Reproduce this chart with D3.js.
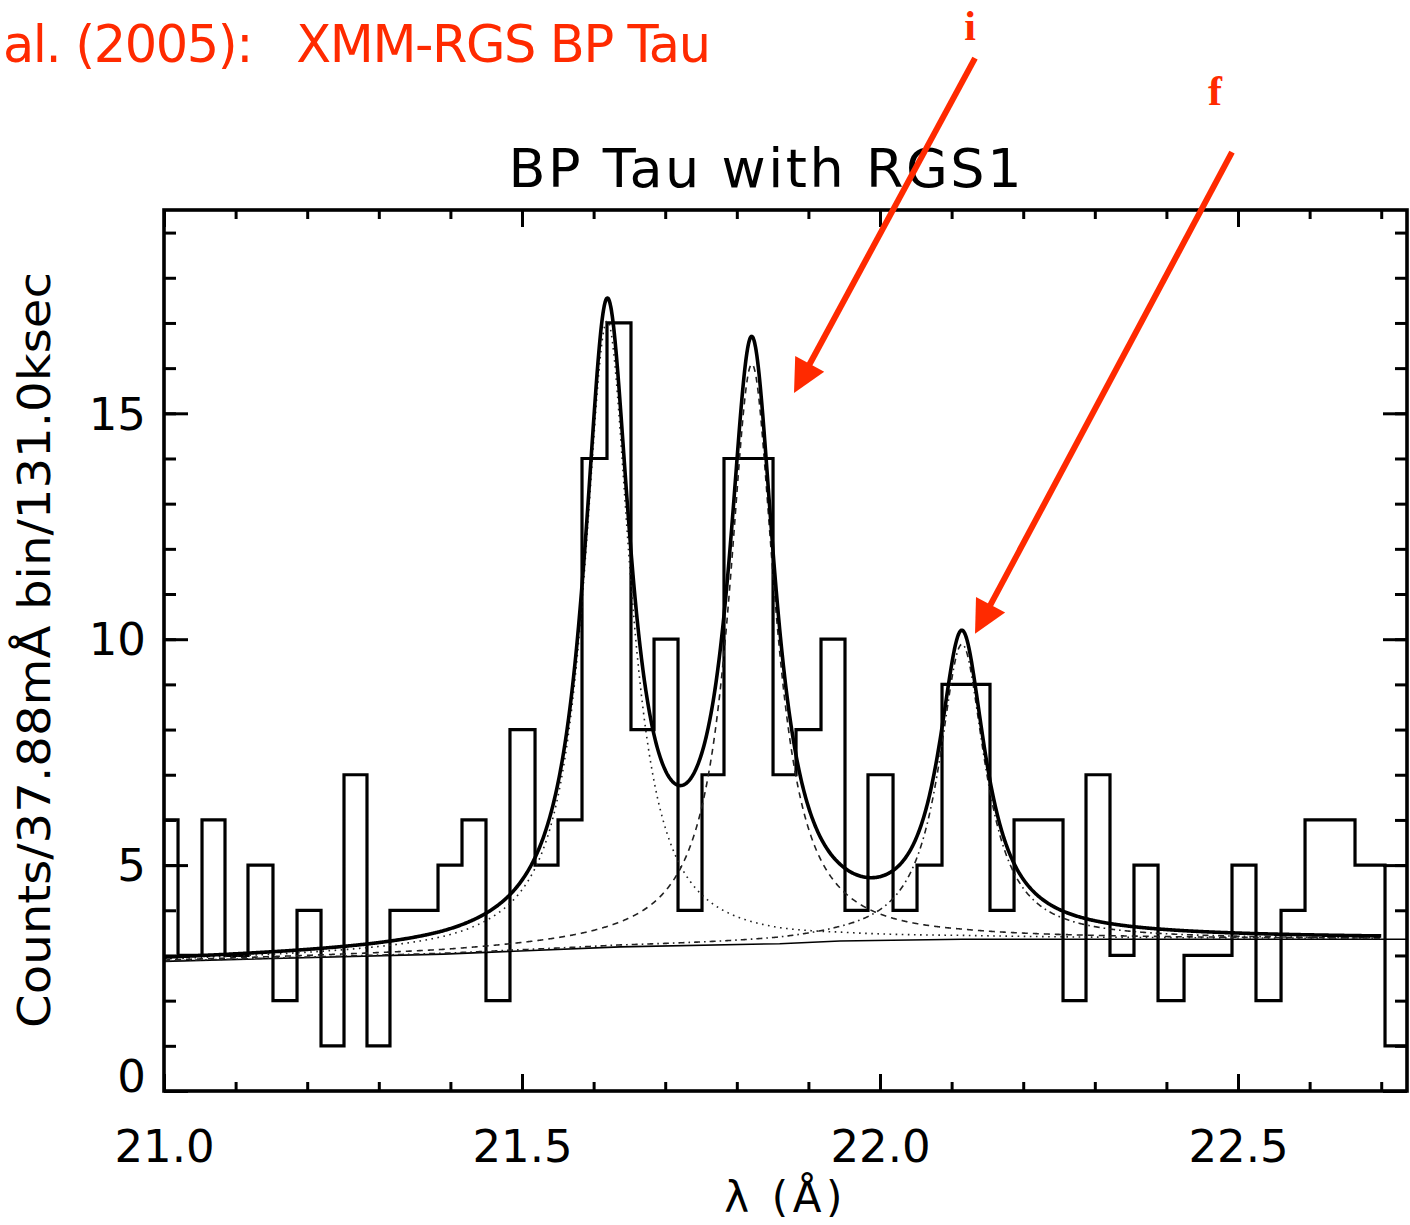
<!DOCTYPE html>
<html>
<head>
<meta charset="utf-8">
<script src="https://cdn.jsdelivr.net/npm/d3@7"></script>
<style>
  html, body { margin: 0; padding: 0; background: #fff; }
  svg { display: block; }
  text { font-family: "DejaVu Sans", Verdana, sans-serif; }
</style>
</head>
<body>
<svg id="chart" width="1410" height="1225"></svg>
<script>
// ---- O VII triplet spectrum of BP Tau (XMM-Newton RGS1) ----

// Wavelength bin edges (Å) of the counts histogram
const binEdges = [
  20.986, 21.0196, 21.0531, 21.0852, 21.1173, 21.1522, 21.1858, 21.2193, 21.2514,
  21.2835, 21.3156, 21.3492, 21.3827, 21.4162, 21.4497, 21.4832, 21.5182, 21.5503,
  21.5838, 21.6187, 21.6522, 21.6844, 21.7179, 21.7514, 21.7821, 21.8170, 21.8506,
  21.8827, 21.9176, 21.9511, 21.9832, 22.0182, 22.0517, 22.0866, 22.1201, 22.1536,
  22.1872, 22.2207, 22.2556, 22.2877, 22.3212, 22.3547, 22.3883, 22.4246, 22.4581,
  22.4916, 22.5251, 22.5601, 22.5936, 22.6285, 22.6634, 22.7053, 22.745
];
// Counts per bin
const counts = [
  6, 3, 6, 3, 5, 2, 4, 1, 7, 1, 4, 4, 5, 6, 2, 8, 5, 6, 14, 17, 8, 10, 4, 7, 14, 14,
  7, 8, 10, 4, 7, 4, 5, 9, 9, 4, 6, 6, 2, 7, 3, 5, 2, 3, 3, 5, 2, 4, 6, 6, 5, 1
];

// Fitted continuum level (wavelength Å, counts)
const continuumLambda = [21.0, 21.39, 21.637, 21.86, 21.944, 22.115, 22.736];
const continuumLevel  = [2.87, 3.03, 3.19, 3.26, 3.32, 3.36, 3.36];

// Fitted emission lines: resonance (r), intercombination (i), forbidden (f)
const lineNames   = ["r", "i", "f"];
const lineCenters = [21.619, 21.821, 22.1145];   // Å
const lineAmps    = [13.87, 12.84, 6.53];        // counts above continuum
const lineWidth   = 0.0391;                      // Lorentzian half width (Å)
const modelRange  = [21.0, 22.70];

// Axis ticks
const xMajorTicks  = [21.0, 21.5, 22.0, 22.5];
const xTickLabels  = ["21.0", "21.5", "22.0", "22.5"];
const xMinorTicks  = d3.range(21.0, 22.75, 0.1).map(v => +v.toFixed(1));
const yMajorTicks  = [0, 5, 10, 15];
const yTickLabels  = ["0", "5", "10", "15"];
const yMinorTicks  = d3.range(0, 20, 1);

// Annotation arrows, in data coordinates: [start, tip]
const arrowLabels = ["i", "f"];
const arrowStarts = [[22.1327, 22.86], [22.4916, 20.78]];
const arrowTips   = [[21.8799, 15.45], [22.1327, 10.12]];
const labelPos    = [[22.1257, 23.27], [22.4679, 21.82]];

// ---- layout ----
const svg = d3.select("#chart");
const W = 1410, H = 1225;
const plot = { left: 164, right: 1407, top: 210, bottom: 1091 };
const red = "#ff2a00";

const x = d3.scaleLinear().domain([21.0, 22.736]).range([plot.left, plot.right]);
const y = d3.scaleLinear().domain([0, 19.5]).range([plot.bottom, plot.top]);

svg.append("rect").attr("width", W).attr("height", H).attr("fill", "#fff");

svg.append("defs").append("clipPath").attr("id", "plotClip")
  .append("rect")
  .attr("x", plot.left).attr("y", plot.top)
  .attr("width", plot.right - plot.left).attr("height", plot.bottom - plot.top);

const g = svg.append("g").attr("clip-path", "url(#plotClip)");

// Histogram as a step outline
const steps = [];
counts.forEach((c, i) => {
  steps.push([binEdges[i], c]);
  steps.push([binEdges[i + 1], c]);
});
g.append("path")
  .datum(steps)
  .attr("fill", "none")
  .attr("stroke", "#000")
  .attr("stroke-width", 3.2)
  .attr("stroke-linejoin", "miter")
  .attr("d", d3.line().x(d => x(d[0])).y(d => y(d[1])));

// Model
const contAt = d3.scaleLinear().domain(continuumLambda).range(continuumLevel).clamp(true);
const lorentz = (k, lam) => lineAmps[k] / (1 + Math.pow((lam - lineCenters[k]) / lineWidth, 2));
const grid = d3.range(modelRange[0], modelRange[1] + 1e-9, 0.001);

// Continuum (thin solid)
g.append("path")
  .datum(continuumLambda.map((l, i) => [l, continuumLevel[i]]))
  .attr("fill", "none")
  .attr("stroke", "#000")
  .attr("stroke-width", 1.6)
  .attr("d", d3.line().x(d => x(d[0])).y(d => y(d[1])));

// Individual line components on top of the continuum
lineNames.forEach((name, k) => {
  g.append("path")
    .datum(grid.map(l => [l, contAt(l) + lorentz(k, l)]))
    .attr("class", "component-" + name)
    .attr("fill", "none")
    .attr("stroke", "#222")
    .attr("stroke-width", 1.6)
    .attr("stroke-dasharray", k === 1 ? "6,5" : (k === 2 ? "6,4,1.6,4" : "1.6,4.5"))
    .attr("d", d3.line().x(d => x(d[0])).y(d => y(d[1])));
});

// Total model (thick)
g.append("path")
  .datum(grid.map(l => [l, contAt(l) + lorentz(0, l) + lorentz(1, l) + lorentz(2, l)]))
  .attr("fill", "none")
  .attr("stroke", "#000")
  .attr("stroke-width", 3.6)
  .attr("stroke-linejoin", "round")
  .attr("d", d3.line().x(d => x(d[0])).y(d => y(d[1])));

// ---- frame and ticks (inward on all four sides) ----
function tickAxis(axisFn, scale, values, size, transform) {
  const a = axisFn(scale).tickValues(values).tickSize(-size).tickFormat("");
  const sel = svg.append("g").attr("transform", transform).call(a);
  sel.select(".domain").remove();
  sel.selectAll(".tick line").attr("stroke", "#000").attr("stroke-width", 3);
  return sel;
}
tickAxis(d3.axisBottom, x, xMinorTicks, 9, `translate(0,${plot.bottom})`);
tickAxis(d3.axisBottom, x, xMajorTicks, 17, `translate(0,${plot.bottom})`);
tickAxis(d3.axisTop, x, xMinorTicks, 9, `translate(0,${plot.top})`);
tickAxis(d3.axisTop, x, xMajorTicks, 17, `translate(0,${plot.top})`);
tickAxis(d3.axisLeft, y, yMinorTicks, 12, `translate(${plot.left},0)`);
tickAxis(d3.axisLeft, y, yMajorTicks, 24, `translate(${plot.left},0)`);
tickAxis(d3.axisRight, y, yMinorTicks, 12, `translate(${plot.right},0)`);
tickAxis(d3.axisRight, y, yMajorTicks, 24, `translate(${plot.right},0)`);

svg.append("rect")
  .attr("x", plot.left).attr("y", plot.top)
  .attr("width", plot.right - plot.left).attr("height", plot.bottom - plot.top)
  .attr("fill", "none").attr("stroke", "#000").attr("stroke-width", 3.6);

// Tick labels
const xLab = svg.append("g").attr("transform", `translate(0,${plot.bottom})`)
  .call(d3.axisBottom(x).tickValues(xMajorTicks).tickSize(0).tickPadding(39)
    .tickFormat((d, i) => xTickLabels[i]));
xLab.select(".domain").remove();
xLab.selectAll("text").attr("font-size", 45).attr("fill", "#000")
  .style("font-family", "'DejaVu Sans', sans-serif");

const yLab = svg.append("g").attr("transform", `translate(${plot.left},0)`)
  .call(d3.axisLeft(y).tickValues(yMajorTicks).tickSize(0).tickPadding(18)
    .tickFormat((d, i) => yTickLabels[i]));
yLab.select(".domain").remove();
yLab.selectAll("text").attr("font-size", 45).attr("fill", "#000")
  .style("font-family", "'DejaVu Sans', sans-serif")
  .attr("dy", d => d === 0 ? "0.02em" : "0.35em");

// Axis titles and plot title
svg.append("text")
  .attr("x", x(21.865)).attr("y", 1212)
  .attr("text-anchor", "middle").attr("font-size", 42)
  .attr("textLength", 118).attr("lengthAdjust", "spacing")
  .text("λ (Å)");

svg.append("text")
  .attr("transform", "translate(50,650) rotate(-90)")
  .attr("text-anchor", "middle").attr("font-size", 45)
  .attr("textLength", 756).attr("lengthAdjust", "spacingAndGlyphs")
  .text("Counts/37.88mÅ bin/131.0ksec");

svg.append("text")
  .attr("x", 765).attr("y", 187)
  .attr("text-anchor", "middle").attr("font-size", 54)
  .attr("textLength", 513).attr("lengthAdjust", "spacing")
  .text("BP Tau with RGS1");

// Header line (red)
svg.append("text")
  .attr("x", 3).attr("y", 62)
  .attr("font-size", 51).attr("fill", red)
  .attr("textLength", 708).attr("lengthAdjust", "spacing")
  .style("white-space", "pre")
  .text("al. (2005):   XMM-RGS BP Tau");

// ---- annotation arrows ----
const arrowLen = 33, arrowHalf = 16.5;
arrowLabels.forEach((lab, k) => {
  const [sx, sy] = [x(arrowStarts[k][0]), y(arrowStarts[k][1])];
  const [tx, ty] = [x(arrowTips[k][0]), y(arrowTips[k][1])];
  const dx = tx - sx, dy = ty - sy, L = Math.hypot(dx, dy);
  const ux = dx / L, uy = dy / L;
  const bx = tx - ux * arrowLen, by = ty - uy * arrowLen;
  svg.append("line")
    .attr("x1", sx).attr("y1", sy).attr("x2", bx + ux * 2).attr("y2", by + uy * 2)
    .attr("stroke", red).attr("stroke-width", 6);
  svg.append("polygon")
    .attr("points", [[tx, ty], [bx - uy * arrowHalf, by + ux * arrowHalf], [bx + uy * arrowHalf, by - ux * arrowHalf]]
      .map(p => p.join(",")).join(" "))
    .attr("fill", red);
  svg.append("text")
    .attr("x", x(labelPos[k][0])).attr("y", y(labelPos[k][1]))
    .attr("text-anchor", "middle")
    .attr("font-size", 42).attr("font-weight", "bold").attr("fill", red)
    .style("font-family", "'Liberation Serif', 'Times New Roman', serif")
    .text(lab);
});
</script>
</body>
</html>
